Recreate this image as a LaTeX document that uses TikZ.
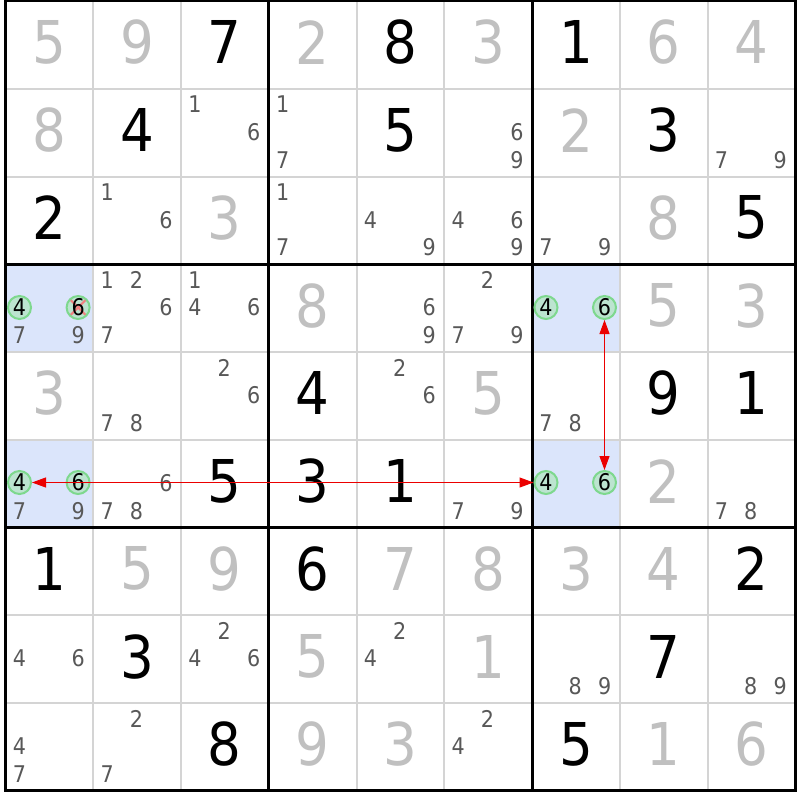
\documentclass[tikz,border=0pt]{standalone}
\usepackage{fontspec}
\setmainfont{DejaVu Sans Condensed}
\usepackage{xcolor}
\usepackage{tikz}
\usetikzlibrary{arrows.meta}

\definecolor{evid}{RGB}{219,229,251}
\definecolor{griglia}{RGB}{212,212,212}
\definecolor{datocol}{RGB}{192,192,192}
\definecolor{candcol}{RGB}{88,88,88}
\definecolor{cerchio}{RGB}{126,216,142}
\definecolor{cerchiofill}{RGB}{188,228,208}
\definecolor{croce}{RGB}{240,128,128}
\definecolor{freccia}{RGB}{235,0,0}

\begin{document}
\begin{tikzpicture}[x=1pt, y=-1pt,
    dato/.style={text=datocol, font=\fontsize{59}{59}\selectfont, inner sep=0pt},
    risolto/.style={text=black, font=\fontsize{59}{59}\selectfont, inner sep=0pt},
    cand/.style={text=candcol, font=\fontsize{23}{23}\selectfont, inner sep=0pt},
    pin/.style={circle, draw=cerchio, line width=2pt, fill=cerchiofill, minimum size=23pt,
        inner sep=0pt, text=black, font=\fontsize{23}{23}\selectfont},
    legame/.style={freccia, line width=1pt, {Triangle[length=14pt,width=10pt]}-{Triangle[length=14pt,width=10pt]}}]
    \useasboundingbox (0,0) rectangle (800,800);
    \fill[white] (0,0) rectangle (800,800);

    %celle evidenziate
    \fill[evid] (5.5,264.25) rectangle +(87.75,87.75);
    \fill[evid] (5.5,440) rectangle +(87.75,87.75);
    \fill[evid] (532,264.25) rectangle +(87.75,87.75);
    \fill[evid] (532,440) rectangle +(87.75,87.75);

    %griglia
    \foreach \i in {1,2,4,5,7,8} {
        \draw[griglia, line width=2pt] ({5.5+\i*87.75},1) -- ({5.5+\i*87.75},790.75);
        \draw[griglia, line width=2pt] (5.5,{1+\i*87.75}) -- (795.25,{1+\i*87.75});
    }
    \foreach \i in {0,3,6,9} {
        \draw[line width=3pt] ({5.5+\i*87.75},-0.5) -- ({5.5+\i*87.75},792.25);
        \draw[line width=3pt] (4,{1+\i*87.75}) -- (796.75,{1+\i*87.75});
    }

    %numeri dati
    \foreach \r/\c/\d in {1/1/5,1/2/9,1/4/2,1/6/3,1/8/6,1/9/4,2/1/8,2/7/2,3/3/3,3/8/8,
        4/4/8,4/8/5,4/9/3,5/1/3,5/6/5,6/8/2,7/2/5,7/3/9,7/5/7,7/6/8,7/7/3,7/8/4,
        8/4/5,8/6/1,9/4/9,9/5/3,9/8/1,9/9/6}
        \node[dato] (d\r\c) at ({5.5+(\c-0.5)*87.75},{1+(\r-0.5)*87.75-2.5}) {\d};

    %numeri risolti
    \foreach \r/\c/\d in {1/3/7,1/5/8,1/7/1,2/2/4,2/5/5,2/8/3,3/1/2,3/9/5,5/4/4,5/8/9,5/9/1,
        6/3/5,6/4/3,6/5/1,7/1/1,7/4/6,7/9/2,8/2/3,8/8/7,9/3/8,9/7/5}
        \node[risolto] (s\r\c) at ({5.5+(\c-0.5)*87.75},{1+(\r-0.5)*87.75-2.5}) {\d};

    %candidati
    \foreach \r/\c/\d [evaluate=\d as \k using {int(mod(\d-1,3))},
        evaluate=\d as \j using {int((\d-1)/3)}] in
        {2/3/1,2/3/6,2/4/1,2/4/7,2/6/6,2/6/9,2/9/7,2/9/9,
        3/2/1,3/2/6,3/4/1,3/4/7,3/5/4,3/5/9,3/6/4,3/6/6,3/6/9,3/7/7,3/7/9,
        4/1/7,4/1/9,4/2/1,4/2/2,4/2/6,4/2/7,4/3/1,4/3/4,4/3/6,4/5/6,4/5/9,4/6/2,4/6/7,4/6/9,
        5/2/7,5/2/8,5/3/2,5/3/6,5/5/2,5/5/6,5/7/7,5/7/8,
        6/1/7,6/1/9,6/2/6,6/2/7,6/2/8,6/6/7,6/6/9,6/9/7,6/9/8,
        8/1/4,8/1/6,8/3/2,8/3/4,8/3/6,8/5/2,8/5/4,8/7/8,8/7/9,8/9/8,8/9/9,
        9/1/4,9/1/7,9/2/2,9/2/7,9/6/2,9/6/4}
        \node[cand] (c\r\c\d) at ({5.5+(\c-1)*87.75+14+29.3*\k},{1+(\r-1)*87.75+15.5+27.75*\j}) {\d};

    %candidati cerchiati
    \node[pin] (r4c1n4) at (19.5,307.5) {4};
    \node[pin, path picture={
        \draw[croce, line width=2pt] ([shift={(-8,-8)}]path picture bounding box.center) -- ([shift={(8,8)}]path picture bounding box.center);
        \draw[croce, line width=2pt] ([shift={(-8,8)}]path picture bounding box.center) -- ([shift={(8,-8)}]path picture bounding box.center);
    }] (r4c1n6) at (78.1,307.5) {6};
    \node[pin] (r6c1n4) at (19.5,482.5) {4};
    \node[pin] (r6c1n6) at (78.1,482.5) {6};
    \node[pin] (r4c7n4) at (546,307.5) {4};
    \node[pin] (r4c7n6) at (604.5,307.5) {6};
    \node[pin] (r6c7n4) at (546,482.5) {4};
    \node[pin] (r6c7n6) at (604.5,482.5) {6};

    %frecce
    \draw[legame] (r6c7n4) -- (r6c1n4);
    \draw[legame] (r4c7n6) -- (r6c7n6);
\end{tikzpicture}
\end{document}
